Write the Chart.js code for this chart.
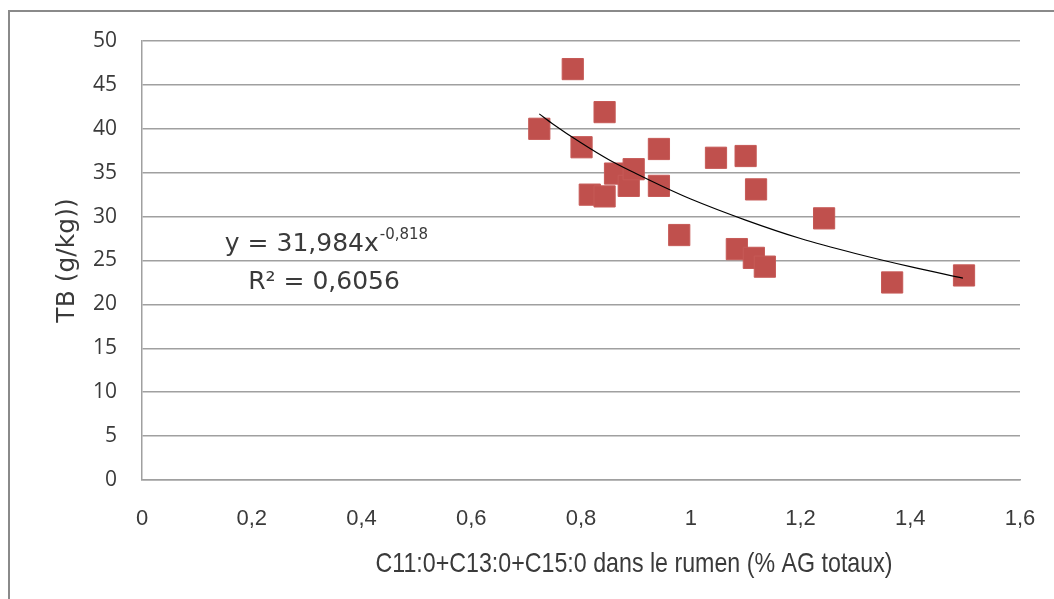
<!DOCTYPE html>
<html>
<head>
<meta charset="utf-8">
<script src="https://cdn.jsdelivr.net/npm/chart.js@4/dist/chart.umd.min.js"></script>
<style>
  html, body { margin: 0; padding: 0; background: #fff; }
  #wrap { position: relative; width: 1054px; height: 599px; overflow: hidden; }
  #frame { position: absolute; left: 8px; top: 10px; width: 1100px; height: 700px;
           border-left: 2px solid #8a8a8a; border-top: 2px solid #8a8a8a; }
  #tbChart { position: absolute; left: 0; top: 0; }
</style>
</head>
<body>
<div id="wrap">
  <div id="frame"></div>
  <canvas id="tbChart" width="1054" height="599"></canvas>
</div>
<script>
// C11:0+C13:0+C15:0 (% AG totaux) vs TB (g/kg)
var ruminalAG = [0.724, 0.785, 0.801, 0.843, 0.816, 0.843, 0.862, 0.887, 0.896, 0.942, 0.942,
                 0.979, 1.046, 1.100, 1.119, 1.084, 1.115, 1.135, 1.243, 1.367, 1.498];
var tbValues  = [40.0, 46.8, 37.9, 41.9, 32.5, 32.3, 34.9, 33.5, 35.4, 37.7, 33.5,
                 27.9, 36.7, 36.9, 33.1, 26.3, 25.3, 24.3, 29.8, 22.5, 23.3];

// courbe de tendance (puissance)
var trendX = [0.724, 0.75, 0.8, 0.85, 0.9, 0.95, 1.0, 1.1, 1.2, 1.3, 1.4, 1.496];
var trendY = [41.7, 40.5, 38.4, 36.5, 34.9, 33.4, 32.0, 29.6, 27.5, 25.8, 24.3, 23.0];

var xTickLabels = ['0', '0,2', '0,4', '0,6', '0,8', '1', '1,2', '1,4', '1,6'];
var yTickLabels = ['0', '5', '10', '15', '20', '25', '30', '35', '40', '45', '50'];

var xTitle = 'C11:0+C13:0+C15:0 dans le rumen (% AG totaux)';
var eqMain = 'y = 31,984x';
var eqExp = '-0,818';
var eqR2 = 'R\u00B2 = 0,6056';

var points = ruminalAG.map(function (x, i) { return { x: x, y: tbValues[i] }; });
var trend = trendX.map(function (x, i) { return { x: x, y: trendY[i] }; });

var textColor = '#3a3a3a';

var annotations = {
    id: 'annotations',
    afterDraw: function (chart) {
        var ctx = chart.ctx;
        ctx.save();
        ctx.fillStyle = textColor;
        ctx.textBaseline = 'alphabetic';
        // titre axe x (police etroite simulee)
        ctx.font = '28px "Liberation Sans"';
        ctx.textAlign = 'center';
        var tw = ctx.measureText(xTitle).width;
        ctx.save();
        ctx.translate(634, 572);
        ctx.scale(517 / tw, 1);
        ctx.fillText(xTitle, 0, 0);
        ctx.restore();
        // equation
        ctx.textAlign = 'left';
        ctx.font = '25px "DejaVu Sans"';
        var w1 = ctx.measureText(eqMain).width;
        ctx.font = '15px "DejaVu Sans"';
        var w2 = ctx.measureText(eqExp).width;
        var start = 326 - (w1 + w2) / 2;
        ctx.font = '25px "DejaVu Sans"';
        ctx.fillText(eqMain, start, 251);
        ctx.font = '15px "DejaVu Sans"';
        ctx.fillText(eqExp, start + w1 + 1, 239);
        ctx.font = '25px "DejaVu Sans"';
        ctx.textAlign = 'center';
        ctx.fillText(eqR2, 324, 289);
        ctx.restore();
    }
};

var ctx = document.getElementById('tbChart');
var myChart = new Chart(ctx, {
    type: 'scatter',
    plugins: [annotations],
    data: {
        datasets: [
            {
                type: 'line',
                label: 'Puissance',
                data: trend,
                borderColor: '#000',
                borderWidth: 1.2,
                pointRadius: 0,
                fill: false,
                cubicInterpolationMode: 'monotone',
                order: 0,
            },
            {
                label: 'TB',
                data: points,
                pointStyle: 'rect',
                pointRadius: 15,
                pointHoverRadius: 15,
                backgroundColor: '#C0504D',
                borderColor: '#C65A57',
                borderWidth: 1,
                order: 1,
            }
        ]
    },
    options: {
        responsive: false,
        animation: false,
        events: [],
        layout: {
            padding: { top: 41, right: 34, left: 0, bottom: 0 },
        },
        plugins: {
            legend: { display: false },
            tooltip: { enabled: false },
        },
        scales: {
            x: {
                type: 'linear',
                min: 0,
                max: 1.6,
                afterFit: function (scale) {
                    scale.height = 119;
                    scale.paddingLeft = 0;
                    scale.paddingRight = 0;
                },
                ticks: {
                    stepSize: 0.2,
                    padding: 26,
                    color: textColor,
                    font: { family: 'Liberation Sans', size: 22 },
                    callback: function (value, index) { return xTickLabels[index]; },
                },
                grid: { display: false, drawTicks: false },
                border: { display: true, color: '#a0a0a0', width: 1.5 },
            },
            y: {
                min: 0,
                max: 50,
                afterFit: function (scale) { scale.width = 142; },
                ticks: {
                    stepSize: 5,
                    padding: 25,
                    color: textColor,
                    font: { family: 'Open Sans', size: 21 },
                    callback: function (value, index) { return yTickLabels[index]; },
                },
                title: {
                    display: true,
                    text: 'TB (g/kg))',
                    color: textColor,
                    font: { family: 'DejaVu Sans', size: 25 },
                    padding: { top: 52, bottom: 0 },
                },
                grid: { color: '#a0a0a0', lineWidth: 1.5, drawTicks: false },
                border: { display: true, color: '#a0a0a0', width: 1.5 },
            },
        },
    },
});
</script>
</body>
</html>
